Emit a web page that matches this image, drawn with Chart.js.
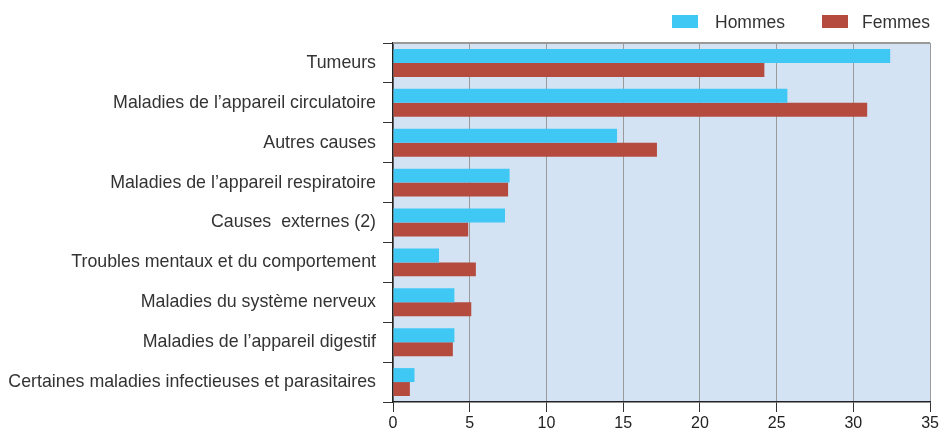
<!DOCTYPE html>
<html>
<head>
<meta charset="utf-8">
<script src="https://cdn.jsdelivr.net/npm/chart.js@4"></script>
<style>
  html, body { margin: 0; padding: 0; background: #fff; }
  #wrap { position: relative; width: 941px; height: 434px; }
  #legend { position: absolute; top: 12px; left: 672px; font-family: "Liberation Sans", Arial, sans-serif; font-size: 17.5px; color: #333; }
  #legend span.item { position: absolute; top: 0; white-space: nowrap; }
  #legend span.box { position: absolute; top: 3px; width: 26px; height: 13px; }
</style>
</head>
<body>
<div id="wrap">
  <canvas id="chart" width="941" height="434"></canvas>
  <div id="legend"></div>
</div>
<script>
// Causes de décès, en %
const categories = [
  'Tumeurs',
  'Maladies de l\u2019appareil circulatoire',
  'Autres causes',
  'Maladies de l\u2019appareil respiratoire',
  'Causes  externes (2)',
  'Troubles mentaux et du comportement',
  'Maladies du syst\u00e8me nerveux',
  'Maladies de l\u2019appareil digestif',
  'Certaines maladies infectieuses et parasitaires'
];
const hommes = [32.4, 25.7, 14.6, 7.6, 7.3, 3.0, 4.0, 4.0, 1.4];
const femmes = [24.2, 30.9, 17.2, 7.5, 4.9, 5.4, 5.1, 3.9, 1.1];
const xTicks = [0, 5, 10, 15, 20, 25, 30, 35];

const colorHommes = '#40c8f4';
const colorFemmes = '#b54b3e';
const FONT = '"Liberation Sans", Arial, sans-serif';

// fond bleu clair de la zone de tracé + bordure haute grise
const plotBg = {
  id: 'plotBg',
  beforeDraw(chart) {
    const { ctx, chartArea: a } = chart;
    ctx.save();
    ctx.fillStyle = '#d4e3f3';
    ctx.fillRect(a.left, a.top, a.right - a.left, a.bottom - a.top);
    ctx.restore();
  },
  afterDatasetsDraw(chart) {
    const { ctx, chartArea: a } = chart;
    ctx.save();
    ctx.strokeStyle = '#999';
    ctx.lineWidth = 2;
    ctx.beginPath();
    ctx.moveTo(a.left, a.top);
    ctx.lineTo(a.right, a.top);
    ctx.stroke();
    ctx.restore();
  }
};

const chart = new Chart(document.getElementById('chart').getContext('2d'), {
  type: 'bar',
  data: {
    labels: categories,
    datasets: [
      { label: 'Hommes', data: hommes, backgroundColor: colorHommes },
      { label: 'Femmes', data: femmes, backgroundColor: colorFemmes }
    ]
  },
  options: {
    indexAxis: 'y',
    responsive: false,
    animation: false,
    layout: { padding: { top: 43, right: 10, left: 0, bottom: 0 } },
    datasets: { bar: { categoryPercentage: 0.7, barPercentage: 1.0 } },
    plugins: { legend: { display: false }, tooltip: { enabled: false } },
    scales: {
      x: {
        min: 0,
        max: 35,
        afterBuildTicks(scale) { scale.ticks = xTicks.map(v => ({ value: v })); },
        afterFit(scale) { scale.height = 32; },
        grid: { color: '#9a9a9a', lineWidth: 1, tickColor: '#333', tickLength: 10 },
        border: { color: '#222', width: 1.5 },
        ticks: { color: '#222', font: { family: FONT, size: 16 }, padding: 2 }
      },
      y: {
        afterFit(scale) { scale.width = 393; },
        grid: { drawOnChartArea: false, offset: true, tickColor: '#333', tickLength: 10 },
        border: { color: '#222', width: 1.5 },
        ticks: { color: '#333', font: { family: FONT, size: 17.8 }, padding: 7 }
      }
    }
  },
  plugins: [plotBg]
});

// légende en haut à droite
const legend = document.getElementById('legend');
[['Hommes', colorHommes, 0, 43], ['Femmes', colorFemmes, 150, 40]].forEach(([name, color, off, gap]) => {
  const box = document.createElement('span');
  box.className = 'box';
  box.style.left = off + 'px';
  box.style.background = color;
  legend.appendChild(box);
  const txt = document.createElement('span');
  txt.className = 'item';
  txt.style.left = (off + gap) + 'px';
  txt.textContent = name;
  legend.appendChild(txt);
});
</script>
</body>
</html>
